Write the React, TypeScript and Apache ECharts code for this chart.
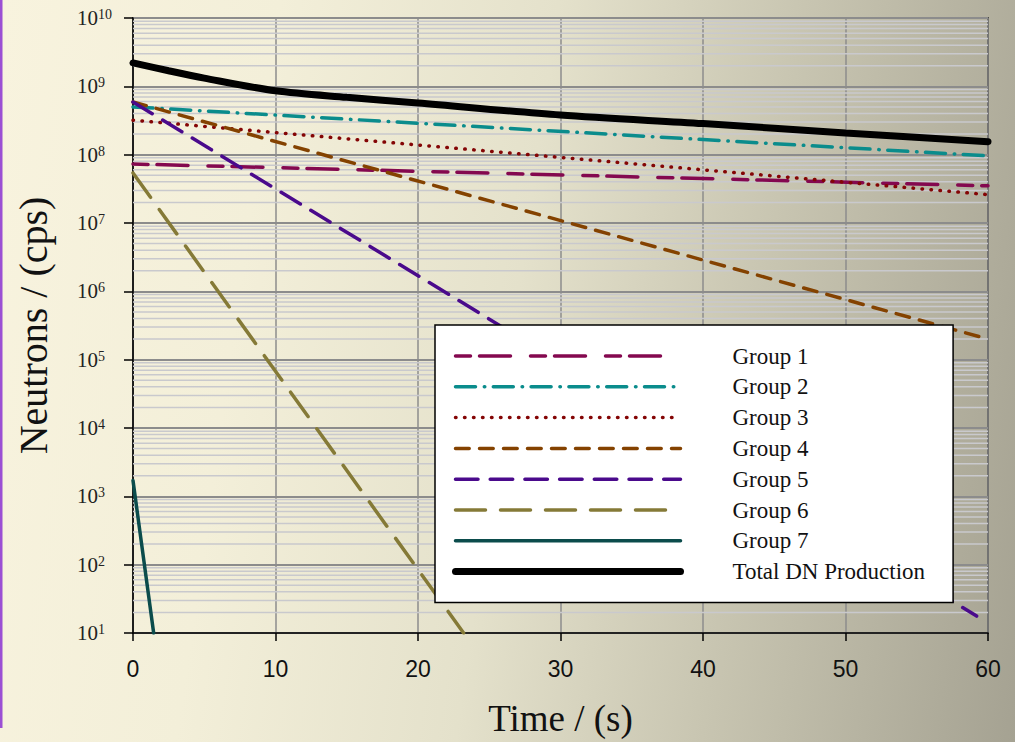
import React, { useEffect, useRef } from "react";
import * as echarts from "echarts";

// ---- data ----
const xTicks = [0, 10, 20, 30, 40, 50, 60];
const yExponents = [1, 2, 3, 4, 5, 6, 7, 8, 9, 10];
const minorMultipliers = [2, 3, 4, 5, 6, 7, 8, 9];

const seriesNames = [
  "Group 1",
  "Group 2",
  "Group 3",
  "Group 4",
  "Group 5",
  "Group 6",
  "Group 7",
  "Total DN Production",
];

const group1T = [0, 60];
const group1V = [7.3e7, 3.5e7];
const group2T = [0, 60];
const group2V = [5.0e8, 9.6e7];
const group3T = [0, 60];
const group3V = [3.2e8, 2.6e7];
const group4T = [0, 60];
const group4V = [5.9e8, 2.0e5];
const group5T = [0, 59.2];
const group5V = [5.9e8, 17.7];
const group6T = [0, 23.2];
const group6V = [5.4e7, 10];
const group7T = [0, 1.45];
const group7V = [1.7e3, 10];
const totalT = [0, 2.5, 5, 10, 15, 20, 30, 40, 50, 60];
const totalV = [2.2e9, 1.69e9, 1.32e9, 8.6e8, 6.9e8, 5.7e8, 3.8e8, 2.85e8, 2.08e8, 1.55e8];

// ---- styles ----
const colors = ["#84084f", "#0a8c8c", "#840505", "#844200", "#4a0a8c", "#857a37", "#0b4c4c", "#000000"];
const widths = [3.5, 3.5, 3.5, 3.5, 3.5, 3.5, 3.5, 7];
const dashes: (number[] | string)[] = [
  [15, 9, 31, 20],
  [20, 8.8, 0.5, 8.5],
  [0.5, 8.5],
  [13.7, 10.3],
  [22.5, 12.2],
  [30, 15],
  "solid",
  "solid",
];

const pairs = (t: number[], v: number[]) => t.map((x, i) => [x, v[i]]);

export default function App() {
  const ref = useRef<HTMLDivElement>(null);
  useEffect(() => {
    const chart = echarts.init(ref.current!, null, { renderer: "svg" });
    const seriesData = [
      pairs(group1T, group1V),
      pairs(group2T, group2V),
      pairs(group3T, group3V),
      pairs(group4T, group4V),
      pairs(group5T, group5V),
      pairs(group6T, group6V),
      pairs(group7T, group7V),
      pairs(totalT, totalV),
    ];
    const minorData: number[][] = [];
    yExponents.slice(0, -1).forEach((e) => {
      minorMultipliers.forEach((m) => minorData.push([0, m * Math.pow(10, e)]));
    });

    const option: any = {
      animation: false,
      backgroundColor: "transparent",
      grid: {
        left: 133,
        top: 18,
        right: 27,
        bottom: 109,
        outerBoundsMode: "none",
        containLabel: false,
        show: true,
        borderColor: "#000",
        borderWidth: 1.5,
        backgroundColor: "transparent",
      },
      graphic: [
        { type: "rect", shape: { x: 0, y: 0, width: 2.5, height: 728 }, style: { fill: "#9b4fd4" } },
      ],
      xAxis: {
        type: "value",
        min: xTicks[0],
        max: xTicks[xTicks.length - 1],
        interval: 10,
        name: "Time / (s)",
        nameLocation: "middle",
        nameGap: 67,
        nameTextStyle: { fontFamily: "Liberation Serif", fontSize: 37, color: "#111" },
        axisLine: { lineStyle: { color: "#000", width: 1.5 } },
        axisTick: { show: true, inside: false, length: 8, lineStyle: { color: "#000", width: 1.5 } },
        axisLabel: { fontFamily: "Liberation Sans", fontSize: 23, color: "#111", margin: 24 },
        splitLine: { show: true, lineStyle: { color: "#8c8c8c", width: 1.5 } },
      },
      yAxis: {
        type: "log",
        logBase: 10,
        min: Math.pow(10, yExponents[0]),
        max: Math.pow(10, yExponents[yExponents.length - 1]),
        name: "Neutrons / (cps)",
        nameLocation: "middle",
        nameGap: 80,
        nameTextStyle: { fontFamily: "Liberation Serif", fontSize: 40, color: "#111" },
        axisLine: { lineStyle: { color: "#000", width: 1.5 } },
        axisTick: { show: true, inside: false, length: 9, lineStyle: { color: "#000", width: 1.5 } },
        axisLabel: {
          align: "left",
          margin: 56,
          formatter: (v: number) => `{b|10}{s|${Math.round(Math.log10(v))}}`,
          rich: {
            b: { fontFamily: "Liberation Serif", fontSize: 21, lineHeight: 21, color: "#222" },
            s: { fontFamily: "Liberation Serif", fontSize: 14, lineHeight: 14, verticalAlign: "top", color: "#222" },
          },
        },
        splitLine: { show: true, lineStyle: { color: "#8c8c8c", width: 2 } },
        minorTick: { show: false },
        minorSplitLine: { show: false },
      },
      legend: {
        show: true,
        orient: "vertical",
        left: 435,
        top: 325,
        padding: [19.5, 28, 19.5, 17],
        backgroundColor: "#ffffff",
        borderColor: "#000",
        borderWidth: 1.5,
        itemWidth: 225,
        itemHeight: 23,
        itemGap: 7.8,
        selectedMode: false,
        textStyle: {
          fontFamily: "Liberation Serif",
          fontSize: 23,
          lineHeight: 23,
          color: "#111",
          padding: [0, 0, 0, 47],
        },
        data: seriesNames.map((n, i) => ({
          name: n,
          itemStyle: { color: "rgba(0,0,0,0)", borderWidth: 0, opacity: 0 },
          lineStyle: { color: colors[i], width: widths[i], type: dashes[i], cap: "round", opacity: 1 },
        })),
      },
      series: [
        {
          type: "custom",
          name: "minor-grid",
          z: 1,
          silent: true,
          data: minorData,
          renderItem: (params: any, api: any) => {
            const v = api.value(1);
            const p0 = api.coord([xTicks[0], v]);
            const p1 = api.coord([xTicks[xTicks.length - 1], v]);
            return {
              type: "line",
              shape: { x1: p0[0], y1: p0[1], x2: p1[0], y2: p1[1] },
              style: { stroke: "#c9c9cd", lineWidth: 1.5 },
            };
          },
        },
        ...seriesNames.map((n, i) => ({
          type: "line",
          name: n,
          z: 3,
          symbol: "none",
          showSymbol: false,
          smooth: i === 7 ? 0.3 : false,
          data: seriesData[i],
          itemStyle: { color: colors[i] },
          lineStyle: { color: colors[i], width: widths[i], type: dashes[i], cap: "round" },
        })),
      ],
    };
    chart.setOption(option);
    return () => chart.dispose();
  }, []);
  return (
    <div
      style={{
        position: "fixed",
        left: 0,
        top: 0,
        width: 1015,
        height: 742,
        background:
          "linear-gradient(98deg, #f8f3de 0%, #f3efd9 25%, #e4e1cb 50%, #c8c5b1 72%, #a5a292 100%)",
      }}
    >
      <div ref={ref} style={{ width: 1015, height: 742 }} />
    </div>
  );
}
